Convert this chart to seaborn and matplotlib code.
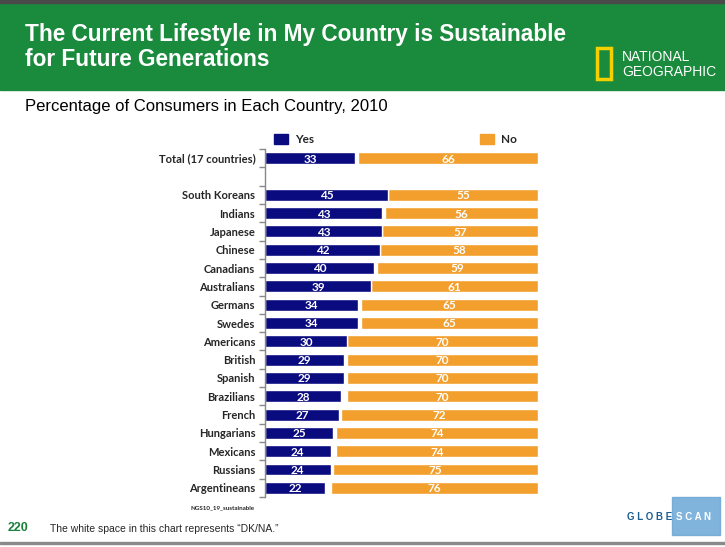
import numpy as np
import pandas as pd
import matplotlib
matplotlib.use('Agg')
import matplotlib.pyplot as plt
from matplotlib.patches import Rectangle
import seaborn as sns

# ── data ───────────────────────────────────────────────────
groups = ['Total (17 countries)', '', 'South Koreans', 'Indians', 'Japanese',
          'Chinese', 'Canadians', 'Australians', 'Germans', 'Swedes',
          'Americans', 'British', 'Spanish', 'Brazilians', 'French',
          'Hungarians', 'Mexicans', 'Russians', 'Argentineans']
yes_pct = [33, np.nan, 45, 43, 43, 42, 40, 39, 34, 34, 30, 29, 29, 28, 27, 25, 24, 24, 22]
no_pct  = [66, np.nan, 55, 56, 57, 58, 59, 61, 65, 65, 70, 70, 70, 70, 72, 74, 74, 75, 76]

YES_COLOR = '#0b0b80'
NO_COLOR  = '#f29f2e'
GREEN     = '#1a8a3c'

df = pd.DataFrame({'group': groups, 'yes': yes_pct, 'no': no_pct})
df['full'] = np.where(df['no'].notna(), 100.0, np.nan)
df['gap_end'] = 100 - df['no']          # white space = DK/NA

sns.set_theme(style='white')
plt.rcParams['font.family'] = ['Liberation Sans', 'DejaVu Sans']

fig = plt.figure(figsize=(7.25, 5.47), dpi=100)

# ── header band ────────────────────────────────────────────
fig.patches.append(Rectangle((0, 1 - 90 / 547), 1, 90 / 547, transform=fig.transFigure,
                             color=GREEN, zorder=0))
fig.patches.append(Rectangle((0, 1 - 3 / 547), 1, 3 / 547, transform=fig.transFigure,
                             color='#4a4a4a', zorder=1))
fig.text(25 / 725, 1 - 34 / 547, 'The Current Lifestyle in My Country is Sustainable',
         color='white', fontsize=16.3, fontweight='bold', va='center')
fig.text(25 / 725, 1 - 59 / 547, 'for Future Generations',
         color='white', fontsize=16.3, fontweight='bold', va='center')

# National Geographic logo
fig.patches.append(Rectangle((597 / 725, 1 - 79 / 547), 14 / 725, 31 / 547,
                             transform=fig.transFigure, fill=False,
                             edgecolor='#f5d000', linewidth=2.5, zorder=2))
fig.text(622 / 725, 1 - 57 / 547, 'NATIONAL', color='white', fontsize=10,
         va='center')
fig.text(622 / 725, 1 - 72 / 547, 'GEOGRAPHIC', color='white', fontsize=10,
         va='center')

fig.text(25 / 725, 1 - 106 / 547, 'Percentage of Consumers in Each Country, 2010',
         color='black', fontsize=12, va='center')

# ── chart ──────────────────────────────────────────────────
ax = fig.add_axes([265 / 725, 1 - 497 / 547, 273 / 725, 348 / 547])
bar_h = 0.65
sns.barplot(data=df, y='group', x='full', order=groups, color=NO_COLOR,
            saturation=1, width=bar_h, ax=ax, orient='h')
sns.barplot(data=df, y='group', x='gap_end', order=groups, color='white',
            saturation=1, width=bar_h, ax=ax, orient='h')
sns.barplot(data=df, y='group', x='yes', order=groups, color=YES_COLOR,
            saturation=1, width=bar_h, ax=ax, orient='h')

for i, (y, n) in enumerate(zip(yes_pct, no_pct)):
    if np.isnan(y):
        continue
    ax.text(y / 2, i + 0.05, f'{y:.0f}', color='white', fontsize=8.5, fontweight='bold',
            ha='center', va='center', family='Lato')
    ax.text(100 - n / 2, i + 0.05, f'{n:.0f}', color='white', fontsize=8.5,
            fontweight='bold', ha='center', va='center', family='Lato')

ax.set_xlim(0, 100)
ax.set_ylim(len(groups) - 0.5, -0.5)
ax.set_xlabel('')
ax.set_ylabel('')
ax.set_xticks([])
for s in ['top', 'right', 'bottom']:
    ax.spines[s].set_visible(False)
ax.spines['left'].set_color('#888888')
ax.spines['left'].set_linewidth(1)
ax.spines['left'].set_zorder(5)
ax.tick_params(axis='y', which='major', length=0, pad=7)
ax.set_yticks(np.arange(-0.5, len(groups)), minor=True)
ax.tick_params(axis='y', which='minor', length=4, color='#888888', width=1, left=True)
for lab in ax.get_yticklabels():
    lab.set_fontweight('bold')
    lab.set_fontsize(8)
    lab.set_family('Lato')

# legend
fig.patches.append(Rectangle((274 / 725, 1 - 144 / 547), 14 / 725, 10 / 547,
                             transform=fig.transFigure, color=YES_COLOR))
fig.text(295 / 725, 1 - 139 / 547, 'Yes', fontsize=8.5, fontweight='bold',
         family='Lato', va='center')
fig.patches.append(Rectangle((480 / 725, 1 - 144 / 547), 14 / 725, 10 / 547,
                             transform=fig.transFigure, color=NO_COLOR))
fig.text(501 / 725, 1 - 139 / 547, 'No', fontsize=8.5, fontweight='bold',
         family='Lato', va='center')

# ── footer ─────────────────────────────────────────────────
fig.text(190 / 725, 1 - 508 / 547, 'NGS10_19_sustainable', fontsize=4.5,
         family='Lato', fontweight='bold', va='center')
fig.text(8 / 725, 1 - 528 / 547, '220', color='#17803a', fontsize=9,
         fontweight='bold', va='center')
fig.text(50 / 725, 1 - 529 / 547, 'The white space in this chart represents \u201cDK/NA.\u201d',
         fontsize=7.5, va='center')
fig.patches.append(Rectangle((0, 1 - 544 / 547), 1, 2 / 547, transform=fig.transFigure,
                             color='#8a8a8a'))

# GlobeScan logo
fig.patches.append(Rectangle((672 / 725, 1 - 535 / 547), 48 / 725, 38 / 547,
                             transform=fig.transFigure, color='#6aa7d6', alpha=0.85))
fig.text(627 / 725, 1 - 517 / 547, 'G L O B E', color='#1d5e91', fontsize=7,
         fontweight='bold', va='center')
fig.text(676 / 725, 1 - 517 / 547, 'S C A N', color='white', fontsize=7,
         fontweight='bold', va='center')

fig.savefig('out.png', dpi=100)
